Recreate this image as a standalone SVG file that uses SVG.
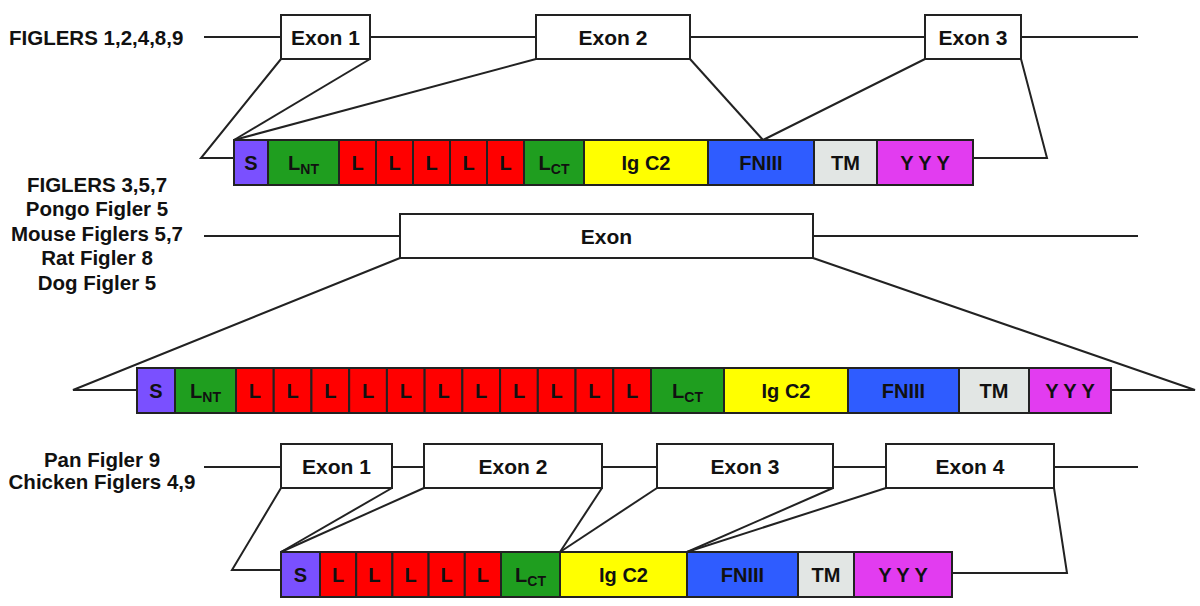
<svg xmlns="http://www.w3.org/2000/svg" width="1200" height="606" viewBox="0 0 1200 606">
<style>
.ln{stroke:#222;stroke-width:2;fill:none}
.box{fill:#fff;stroke:#222;stroke-width:2}
.cell{stroke:#222;stroke-width:2}
.t{font-family:"Liberation Sans",Arial,Helvetica,sans-serif;font-weight:bold;font-size:20px;fill:#111}
.ex{font-size:21px}
.c{text-anchor:middle}
.lab{font-family:"Liberation Sans",Arial,Helvetica,sans-serif;font-weight:bold;font-size:20.5px;fill:#111}
.S{fill:#7a50ff}.G{fill:#1f9e1f}.R{fill:#ff0000}.Y{fill:#ffff00}.B{fill:#2f5cff}.TM{fill:#e2e6e4}.P{fill:#e23cf0}
</style>
<rect width="1200" height="606" fill="#fff"/>
<g id="labels">
<text class="lab" x="9" y="45">FIGLERS 1,2,4,8,9</text>
<text class="lab c" x="97" y="192">FIGLERS 3,5,7</text>
<text class="lab c" x="97" y="216">Pongo Figler 5</text>
<text class="lab c" x="97" y="240.5">Mouse Figlers 5,7</text>
<text class="lab c" x="97" y="265">Rat Figler 8</text>
<text class="lab c" x="97" y="289.5">Dog Figler 5</text>
<text class="lab c" x="102" y="467">Pan Figler 9</text>
<text class="lab c" x="102" y="488.5">Chicken Figlers 4,9</text>
</g>
<g id="connectors">
<line class="ln" x1="204" y1="37" x2="1138" y2="37"/>
<polyline class="ln" points="281,59 201,158 234,158"/>
<line class="ln" x1="370" y1="59" x2="234" y2="140"/>
<line class="ln" x1="536" y1="59" x2="234" y2="140"/>
<line class="ln" x1="690" y1="59" x2="763" y2="140"/>
<line class="ln" x1="925" y1="59" x2="763" y2="140"/>
<polyline class="ln" points="1021,59 1047,158 973,158"/>
<line class="ln" x1="204" y1="236" x2="1138" y2="236"/>
<polyline class="ln" points="400,258 73,390 137,390"/>
<polyline class="ln" points="813,258 1195,390 1111,390"/>
<line class="ln" x1="204" y1="467" x2="1138" y2="467"/>
<polyline class="ln" points="281,488 232,570 281,570"/>
<line class="ln" x1="392" y1="488" x2="281" y2="552"/>
<line class="ln" x1="424" y1="488" x2="281" y2="552"/>
<line class="ln" x1="602" y1="488" x2="560" y2="552"/>
<line class="ln" x1="657" y1="488" x2="560" y2="552"/>
<line class="ln" x1="833" y1="488" x2="687" y2="552"/>
<line class="ln" x1="886" y1="488" x2="687" y2="552"/>
<polyline class="ln" points="1054,488 1067,573 952,573"/>
</g>
<g id="exons1">
<g id="g1-exon1"><rect class="box" x="281" y="15" width="89" height="44"/><text class="t ex c" x="325.5" y="44.5">Exon 1</text></g>
<g id="g1-exon2"><rect class="box" x="536" y="15" width="154" height="44"/><text class="t ex c" x="613" y="44.5">Exon 2</text></g>
<g id="g1-exon3"><rect class="box" x="925" y="15" width="96" height="44"/><text class="t ex c" x="973" y="44.5">Exon 3</text></g>
</g>
<g id="protein1">
<g><rect class="cell S" x="234" y="140" width="34" height="45"/><text class="t c" x="251" y="170">S</text></g>
<g><rect class="cell G" x="268" y="140" width="71" height="45"/><text class="t c" x="303.5" y="170">L<tspan font-size="14" dy="4">NT</tspan></text></g>
<g><rect class="cell R" x="339" y="140" width="37" height="45"/><text class="t c" x="357.5" y="170">L</text></g>
<g><rect class="cell R" x="376" y="140" width="37" height="45"/><text class="t c" x="394.5" y="170">L</text></g>
<g><rect class="cell R" x="413" y="140" width="37" height="45"/><text class="t c" x="431.5" y="170">L</text></g>
<g><rect class="cell R" x="450" y="140" width="37" height="45"/><text class="t c" x="468.5" y="170">L</text></g>
<g><rect class="cell R" x="487" y="140" width="37" height="45"/><text class="t c" x="505.5" y="170">L</text></g>
<g><rect class="cell G" x="524" y="140" width="60" height="45"/><text class="t c" x="554" y="170">L<tspan font-size="14" dy="4">CT</tspan></text></g>
<g><rect class="cell Y" x="584" y="140" width="124" height="45"/><text class="t c" x="646" y="170">Ig C2</text></g>
<g><rect class="cell B" x="708" y="140" width="106" height="45"/><text class="t c" x="761" y="170">FNIII</text></g>
<g><rect class="cell TM" x="814" y="140" width="63" height="45"/><text class="t c" x="845.5" y="170">TM</text></g>
<g><rect class="cell P" x="877" y="140" width="96" height="45"/><text class="t c" x="925" y="170">Y Y Y</text></g>
</g>
<g id="exons2">
<g id="g2-exon"><rect class="box" x="400" y="214" width="413" height="44"/><text class="t ex c" x="606.5" y="243.5">Exon</text></g>
</g>
<g id="protein2">
<g><rect class="cell S" x="137" y="368" width="38" height="45"/><text class="t c" x="156" y="398">S</text></g>
<g><rect class="cell G" x="175" y="368" width="61" height="45"/><text class="t c" x="205.5" y="398">L<tspan font-size="14" dy="4">NT</tspan></text></g>
<g><rect class="cell R" x="236" y="368" width="37.73" height="45"/><text class="t c" x="254.9" y="398">L</text></g>
<g><rect class="cell R" x="273.73" y="368" width="37.73" height="45"/><text class="t c" x="292.6" y="398">L</text></g>
<g><rect class="cell R" x="311.45" y="368" width="37.73" height="45"/><text class="t c" x="330.3" y="398">L</text></g>
<g><rect class="cell R" x="349.18" y="368" width="37.73" height="45"/><text class="t c" x="368" y="398">L</text></g>
<g><rect class="cell R" x="386.91" y="368" width="37.73" height="45"/><text class="t c" x="405.8" y="398">L</text></g>
<g><rect class="cell R" x="424.64" y="368" width="37.73" height="45"/><text class="t c" x="443.5" y="398">L</text></g>
<g><rect class="cell R" x="462.36" y="368" width="37.73" height="45"/><text class="t c" x="481.2" y="398">L</text></g>
<g><rect class="cell R" x="500.09" y="368" width="37.73" height="45"/><text class="t c" x="519" y="398">L</text></g>
<g><rect class="cell R" x="537.82" y="368" width="37.73" height="45"/><text class="t c" x="556.7" y="398">L</text></g>
<g><rect class="cell R" x="575.55" y="368" width="37.73" height="45"/><text class="t c" x="594.4" y="398">L</text></g>
<g><rect class="cell R" x="613.27" y="368" width="37.73" height="45"/><text class="t c" x="632.1" y="398">L</text></g>
<g><rect class="cell G" x="651" y="368" width="73" height="45"/><text class="t c" x="687.5" y="398">L<tspan font-size="14" dy="4">CT</tspan></text></g>
<g><rect class="cell Y" x="724" y="368" width="124" height="45"/><text class="t c" x="786" y="398">Ig C2</text></g>
<g><rect class="cell B" x="848" y="368" width="111" height="45"/><text class="t c" x="903.5" y="398">FNIII</text></g>
<g><rect class="cell TM" x="959" y="368" width="70" height="45"/><text class="t c" x="994" y="398">TM</text></g>
<g><rect class="cell P" x="1029" y="368" width="82" height="45"/><text class="t c" x="1070" y="398">Y Y Y</text></g>
</g>
<g id="exons3">
<g id="g3-exon1"><rect class="box" x="281" y="444" width="111" height="44"/><text class="t ex c" x="336.5" y="473.5">Exon 1</text></g>
<g id="g3-exon2"><rect class="box" x="424" y="444" width="178" height="44"/><text class="t ex c" x="513" y="473.5">Exon 2</text></g>
<g id="g3-exon3"><rect class="box" x="657" y="444" width="176" height="44"/><text class="t ex c" x="745" y="473.5">Exon 3</text></g>
<g id="g3-exon4"><rect class="box" x="886" y="444" width="168" height="44"/><text class="t ex c" x="970" y="473.5">Exon 4</text></g>
</g>
<g id="protein3">
<g><rect class="cell S" x="281" y="552" width="39" height="45"/><text class="t c" x="300.5" y="582">S</text></g>
<g><rect class="cell R" x="320" y="552" width="36.2" height="45"/><text class="t c" x="338.1" y="582">L</text></g>
<g><rect class="cell R" x="356.2" y="552" width="36.2" height="45"/><text class="t c" x="374.3" y="582">L</text></g>
<g><rect class="cell R" x="392.4" y="552" width="36.2" height="45"/><text class="t c" x="410.5" y="582">L</text></g>
<g><rect class="cell R" x="428.6" y="552" width="36.2" height="45"/><text class="t c" x="446.7" y="582">L</text></g>
<g><rect class="cell R" x="464.8" y="552" width="36.2" height="45"/><text class="t c" x="482.9" y="582">L</text></g>
<g><rect class="cell G" x="501" y="552" width="59" height="45"/><text class="t c" x="530.5" y="582">L<tspan font-size="14" dy="4">CT</tspan></text></g>
<g><rect class="cell Y" x="560" y="552" width="127" height="45"/><text class="t c" x="623.5" y="582">Ig C2</text></g>
<g><rect class="cell B" x="687" y="552" width="111" height="45"/><text class="t c" x="742.5" y="582">FNIII</text></g>
<g><rect class="cell TM" x="798" y="552" width="56" height="45"/><text class="t c" x="826" y="582">TM</text></g>
<g><rect class="cell P" x="854" y="552" width="98" height="45"/><text class="t c" x="903" y="582">Y Y Y</text></g>
</g>
</svg>
